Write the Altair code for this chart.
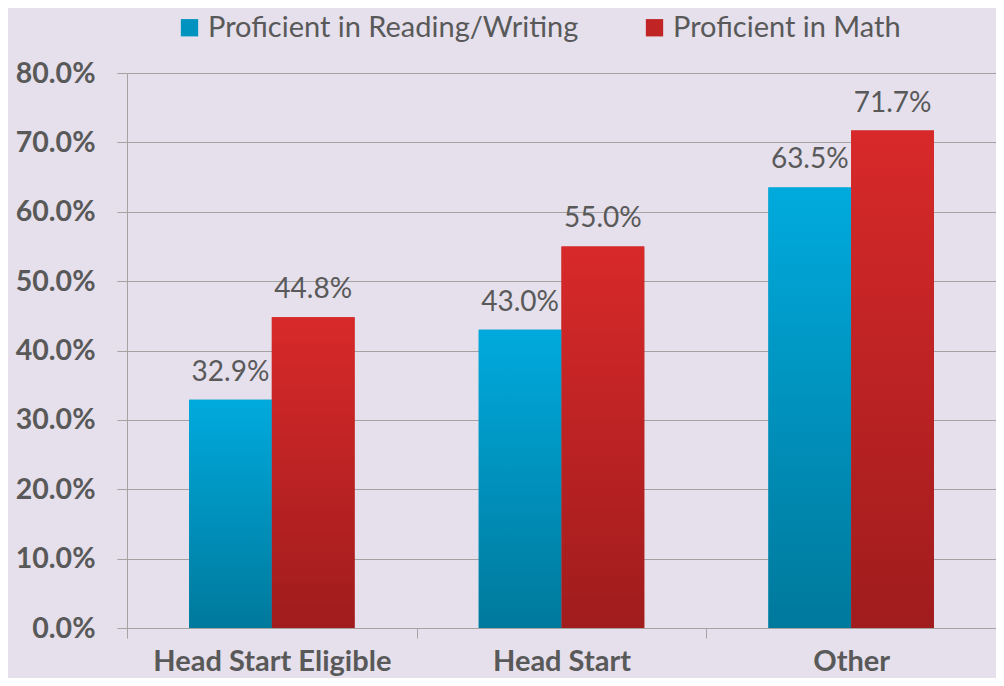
import altair as alt
import pandas as pd

categories = ["Head Start Eligible", "Head Start", "Other"]
series = ["Proficient in Reading/Writing", "Proficient in Math"]
reading = [0.329, 0.430, 0.635]
math = [0.448, 0.550, 0.717]

rows = []
for c, r, m in zip(categories, reading, math):
    rows.append({"category": c, "series": series[0], "value": r})
    rows.append({"category": c, "series": series[1], "value": m})
df = pd.DataFrame(rows)

FONT = "Lato"
TEXT = "#595959"
GRID = "#A3A3A3"
BG = "#E5E0EC"

blue_grad = alt.Gradient(
    gradient="linear",
    stops=[alt.GradientStop(color="#00AADD", offset=0),
           alt.GradientStop(color="#00799C", offset=1)],
    x1=0, x2=0, y1=0, y2=1,
)
red_grad = alt.Gradient(
    gradient="linear",
    stops=[alt.GradientStop(color="#D8292A", offset=0),
           alt.GradientStop(color="#A01C1D", offset=1)],
    x1=0, x2=0, y1=0, y2=1,
)

x_enc = alt.X(
    "category:N", sort=categories, title=None,
    scale=alt.Scale(paddingInner=0, paddingOuter=0),
    axis=alt.Axis(
        labelAngle=0, labelFont=FONT, labelFontSize=29, labelFontWeight="bold",
        labelColor=TEXT, labelPadding=32, labelBaseline="alphabetic",
        tickBand="extent", tickSize=10, tickColor=GRID, domainColor=GRID,
        grid=False, labelLimit=400,
    ),
)
xoff = alt.XOffset("series:N", sort=series,
                   scale=alt.Scale(paddingInner=0, paddingOuter=0.75))
y_enc = alt.Y(
    "value:Q", title=None,
    scale=alt.Scale(domain=[0, 0.8], nice=False),
    axis=alt.Axis(
        format=".1%", values=[i / 10 for i in range(9)],
        labelFont=FONT, labelFontSize=28.5, labelFontWeight="bold",
        labelColor=TEXT, labelPadding=22, tickSize=10, tickColor=GRID,
        domainColor=GRID, gridColor=GRID, gridWidth=1,
    ),
)

base = alt.Chart(df).encode(x=x_enc, xOffset=xoff, y=y_enc)

legend_bars = base.mark_bar().encode(
    color=alt.Color(
        "series:N", sort=series,
        scale=alt.Scale(domain=series, range=["#0093C0", "#C02424"]),
        legend=alt.Legend(
            title=None, orient="none", direction="horizontal",
            legendX=48, legendY=-60, symbolType="square", symbolSize=300,
            symbolStrokeWidth=0, labelFont=FONT, labelFontSize=29,
            labelColor=TEXT, labelOffset=4, columnPadding=61, padding=0,
            labelLimit=500,
        ),
    )
)

blue_bars = base.transform_filter(
    alt.datum.series == series[0]
).mark_bar(fill=blue_grad)
red_bars = base.transform_filter(
    alt.datum.series == series[1]
).mark_bar(fill=red_grad)

labels = base.mark_text(
    font=FONT, fontSize=28, color=TEXT, baseline="alphabetic", dy=-19
).encode(text=alt.Text("value:Q", format=".1%"))

chart = alt.layer(legend_bars, blue_bars, red_bars, labels).properties(
    width=869, height=555,
    padding={"left": 119, "top": 65, "right": 0, "bottom": 50},
    autosize=alt.AutoSizeParams(type="none"),
    background=BG,
).configure_view(stroke=None).configure_axis(domainWidth=1, tickWidth=1)

chart.save("out.html", embed_options={"renderer": "svg", "actions": False})
